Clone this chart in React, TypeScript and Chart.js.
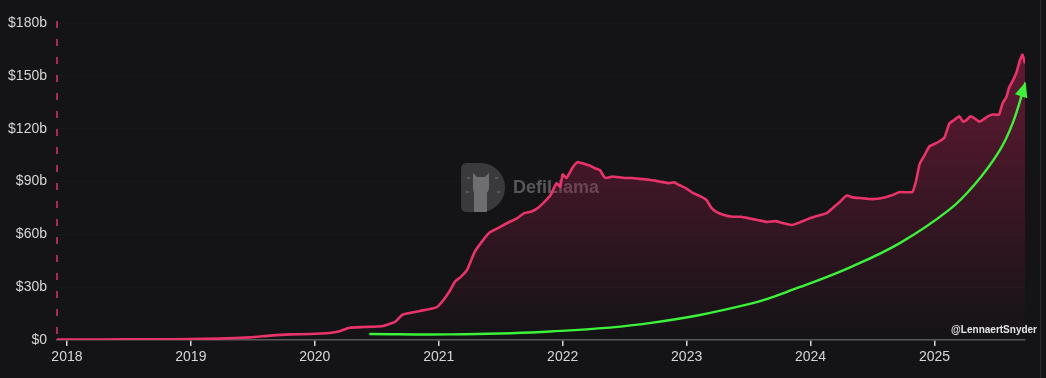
import React, { useEffect, useRef } from "react";
import { Chart, registerables } from "chart.js";

Chart.register(...registerables);

// TVL (billions USD) by fractional year
const tvlYears = [
  2017.92, 2018.27, 2018.67, 2019.0, 2019.23, 2019.48, 2019.64, 2019.8, 2019.96, 2020.12,
  2020.2, 2020.28, 2020.4, 2020.55, 2020.65, 2020.71, 2020.85, 2020.98, 2021.03, 2021.09,
  2021.13, 2021.18, 2021.23, 2021.29, 2021.35, 2021.41, 2021.49, 2021.57, 2021.63, 2021.69, 2021.75, 2021.81, 2021.9,
  2021.95, 2021.98, 2022.0, 2022.03, 2022.08, 2022.12, 2022.15, 2022.18, 2022.22, 2022.26, 2022.3, 2022.33, 2022.35, 2022.4, 2022.44,
  2022.5, 2022.56, 2022.62, 2022.7, 2022.78, 2022.86, 2022.9, 2022.94, 2023.0, 2023.05, 2023.1, 2023.16, 2023.2, 2023.24, 2023.3, 2023.37, 2023.44, 2023.51, 2023.58, 2023.65,
  2023.72, 2023.77, 2023.85, 2023.92, 2023.99, 2024.06, 2024.13, 2024.18, 2024.23, 2024.29, 2024.34, 2024.4, 2024.5, 2024.58, 2024.65, 2024.72, 2024.82,
  2024.85, 2024.88, 2024.92, 2024.96, 2025.02, 2025.08, 2025.12, 2025.16, 2025.2, 2025.23, 2025.26, 2025.29, 2025.32, 2025.36, 2025.39, 2025.43, 2025.47,
  2025.52, 2025.55, 2025.58, 2025.6, 2025.63, 2025.66, 2025.69, 2025.71, 2025.73,
];
const tvlValues = [
  0.3, 0.3, 0.4, 0.5, 0.8, 1.5, 2.5, 3.2, 3.4, 4.0,
  5.0, 7.0, 7.4, 8.0, 10.5, 14.5, 16.5, 18.5, 22, 28,
  33, 36, 40, 50, 56, 61, 64, 67, 69, 72, 73, 75.5, 82,
  89, 87, 94, 92, 98, 101, 100.5, 100, 99, 97.5, 96.5, 93, 92, 92.8, 92.5,
  92, 92, 91.5, 91, 90, 89, 89.5, 88, 86, 83.5, 82, 79.5, 75, 72.7, 71, 70, 70, 69, 68, 67,
  67.5, 66.4, 65.3, 67, 69, 70.5, 72, 75, 78, 82, 81, 80.6, 80, 80.6, 82, 84, 84,
  90, 100, 105, 110, 112, 115, 123, 125, 127, 124, 125, 127, 126, 124, 125, 127, 128,
  128, 134.6, 138, 143, 147, 151.6, 159, 162, 157,
];

// Green trend arrow (annotation)
const arrowYears = [2020.44, 2021.09, 2021.9, 2022.7, 2023.51, 2023.91, 2024.31, 2024.72, 2025.12, 2025.32, 2025.52, 2025.63, 2025.735];
const arrowValues = [3.4, 3.2, 4.8, 9.6, 20.5, 30, 41, 55, 74, 88, 107, 123, 146.5];

const yearTicks = [2018, 2019, 2020, 2021, 2022, 2023, 2024, 2025];
const yTicks = [0, 30, 60, 90, 120, 150, 180];

const X_MIN = 2017.92;
const X_MAX = 2025.73;

const decor = {
  id: "decor",
  beforeDatasetsDraw(chart: any) {
    const { ctx } = chart;
    ctx.save();
    // DefiLlama watermark
    const lx = 461, ly = 163, lw = 44, lh = 49;
    ctx.fillStyle = "#3a3a3c";
    ctx.beginPath();
    ctx.moveTo(lx + 6, ly);
    ctx.lineTo(lx + lw - lh / 2, ly);
    ctx.arc(lx + lw - lh / 2, ly + lh / 2, lh / 2, -Math.PI / 2, Math.PI / 2);
    ctx.lineTo(lx + 6, ly + lh);
    ctx.quadraticCurveTo(lx, ly + lh, lx, ly + lh - 6);
    ctx.lineTo(lx, ly + 6);
    ctx.quadraticCurveTo(lx, ly, lx + 6, ly);
    ctx.fill();
    // llama silhouette
    ctx.fillStyle = "#6e6e70";
    ctx.beginPath();
    ctx.moveTo(lx + 12, ly + 10);
    ctx.lineTo(lx + 16, ly + 14);
    ctx.lineTo(lx + 24, ly + 14);
    ctx.lineTo(lx + 28, ly + 10);
    ctx.lineTo(lx + 28, ly + 26);
    ctx.lineTo(lx + 26, ly + 30);
    ctx.lineTo(lx + 26, ly + lh);
    ctx.lineTo(lx + 13, ly + lh);
    ctx.lineTo(lx + 13, ly + 30);
    ctx.lineTo(lx + 12, ly + 26);
    ctx.closePath();
    ctx.fill();
    ctx.fillStyle = "#58585a";
    for (const [dx, dy] of [[6, 14], [34, 14], [5, 28], [36, 28]]) {
      ctx.fillRect(lx + dx, ly + dy, 3, 2);
    }
    ctx.fillStyle = "#58585a";
    ctx.font = "bold 18px 'Liberation Sans', Arial, sans-serif";
    ctx.textBaseline = "middle";
    ctx.textAlign = "left";
    ctx.fillText("DefiLlama", 513, 188);
    ctx.restore();
  },
  afterDatasetsDraw(chart: any) {
    const { ctx } = chart;
    const meta = chart.getDatasetMeta(1);
    const pts = meta.data;
    if (pts && pts.length > 1) {
      const tip = pts[pts.length - 1];
      const prev = pts[pts.length - 2];
      const ang = Math.atan2(tip.y - prev.y, tip.x - prev.x);
      const len = 15, hw = 6.5;
      ctx.save();
      ctx.fillStyle = "#3df23a";
      ctx.beginPath();
      ctx.moveTo(tip.x, tip.y);
      ctx.lineTo(tip.x - len * Math.cos(ang) + hw * Math.sin(ang), tip.y - len * Math.sin(ang) - hw * Math.cos(ang));
      ctx.lineTo(tip.x - len * Math.cos(ang) - hw * Math.sin(ang), tip.y - len * Math.sin(ang) + hw * Math.cos(ang));
      ctx.closePath();
      ctx.fill();
      ctx.restore();
    }
  },
  afterDraw(chart: any) {
    const { ctx, height, chartArea } = chart;
    ctx.save();
    // dashed left marker line
    ctx.strokeStyle = "#d9336a";
    ctx.lineWidth = 1.5;
    ctx.setLineDash([7, 11]);
    ctx.beginPath();
    ctx.moveTo(chartArea.left, chartArea.top - 2);
    ctx.lineTo(chartArea.left, chartArea.bottom - 4);
    ctx.stroke();
    ctx.setLineDash([]);
    ctx.fillStyle = "#e6e6e6";
    ctx.font = "bold 10px 'Liberation Sans', Arial, sans-serif";
    ctx.textAlign = "right";
    ctx.textBaseline = "middle";
    ctx.fillText("@LennaertSnyder", 1037, 330);
    ctx.strokeStyle = "#2a2a2d";
    ctx.lineWidth = 1;
    ctx.beginPath();
    ctx.moveTo(1040.5, 0);
    ctx.lineTo(1040.5, height);
    ctx.stroke();
    ctx.restore();
  },
};

export default function App() {
  const ref = useRef<HTMLCanvasElement | null>(null);

  useEffect(() => {
    document.body.style.margin = "0";
    document.body.style.background = "#141416";
    const canvas = ref.current!;
    const chart = new Chart(canvas, {
      type: "line",
      data: {
        datasets: [
          {
            data: tvlYears.map((x, i) => ({ x, y: tvlValues[i] })),
            borderColor: "#e8346a",
            borderWidth: 2.6,
            pointRadius: 0,
            tension: 0.15,
            fill: "origin",
            backgroundColor: (c: any) => {
              const area = c.chart.chartArea;
              if (!area) return "rgba(140,28,68,0.4)";
              const g = c.chart.ctx.createLinearGradient(0, area.top, 0, area.bottom);
              g.addColorStop(0, "rgba(145,28,70,0.7)");
              g.addColorStop(1, "rgba(145,28,70,0.0)");
              return g;
            },
            order: 2,
          },
          {
            data: arrowYears.map((x, i) => ({ x, y: arrowValues[i] })),
            borderColor: "#3df23a",
            borderWidth: 2.4,
            pointRadius: 0,
            tension: 0.4,
            fill: false,
            order: 1,
          },
        ],
      },
      options: {
        animation: false,
        responsive: false,
        maintainAspectRatio: false,
        layout: { padding: { top: 23, right: 21, left: 0, bottom: 0 } },
        plugins: { legend: { display: false }, tooltip: { enabled: false } },
        scales: {
          x: {
            type: "linear",
            min: X_MIN,
            max: X_MAX,
            afterBuildTicks: (s: any) => {
              s.ticks = yearTicks.map((v) => ({ value: v }));
            },
            afterFit: (s: any) => {
              s.height = 38;
            },
            grid: {
              drawOnChartArea: false,
              drawTicks: true,
              tickLength: 6,
              color: "rgba(235,235,235,0.9)",
              lineWidth: 1.5,
            },
            border: { display: true, color: "#58585a", width: 1.5 },
            ticks: {
              color: "#d6d6d6",
              padding: 3,
              font: { size: 14, family: "'Liberation Sans', Arial, sans-serif" },
              callback: (v: any) => String(v),
              maxRotation: 0,
              autoSkip: false,
            },
          },
          y: {
            min: 0,
            max: 180,
            afterBuildTicks: (s: any) => {
              s.ticks = yTicks.map((v) => ({ value: v }));
            },
            afterFit: (s: any) => {
              s.width = 57;
            },
            grid: {
              drawTicks: false,
              color: (c: any) => (c.tick && c.tick.value === 0 ? "rgba(0,0,0,0)" : "rgba(255,255,255,0.018)"),
            },
            border: { display: false },
            ticks: {
              color: "#d6d6d6",
              padding: 10,
              font: { size: 14, family: "'Liberation Sans', Arial, sans-serif" },
              callback: (v: any) => (v === 0 ? "$0" : `$${v}b`),
            },
          },
        },
      },
      plugins: [decor],
    } as any);
    return () => chart.destroy();
  }, []);

  return (
    <div style={{ width: 1046, height: 378, background: "#141416", position: "relative" }}>
      <canvas ref={ref} width={1046} height={378} style={{ width: 1046, height: 378, display: "block" }} />
    </div>
  );
}
